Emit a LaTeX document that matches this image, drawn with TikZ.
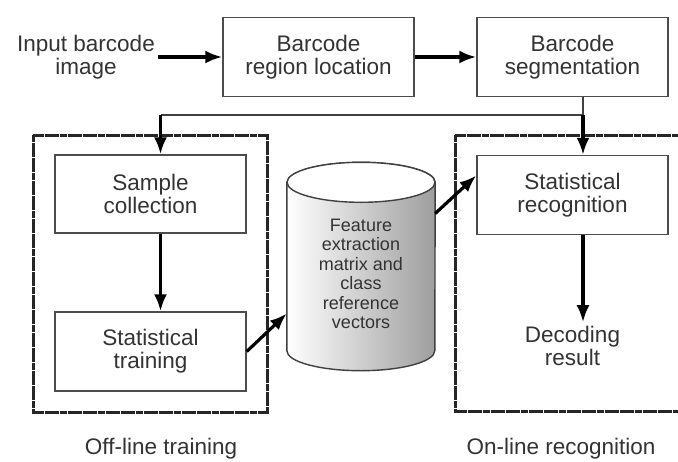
\documentclass[tikz,border=0pt]{standalone}
\usepackage{fontspec}
\setmainfont{Liberation Sans}
\usetikzlibrary{positioning, arrows.meta}

\begin{document}
\begin{tikzpicture}[x=1pt,y=-1pt,node distance=2cm,on grid,
   >={Latex[length=17pt,width=13pt]},
   box/.style={draw=black!70,line width=1.4pt,minimum width=191pt,minimum height=79pt,
     align=center,text=black!80,font=\fontsize{22.5}{23}\selectfont},
   txt/.style={align=center,text=black!80,font=\fontsize{22.5}{23}\selectfont},
   dbshape/.style={minimum width=148pt,minimum height=208pt,inner sep=0pt},
   dbtext/.style={align=center,text=black!80,font=\fontsize{18}{19.5}\selectfont},
   flow/.style={->,line width=3.2pt},
   feed/.style={line width=1.5pt,draw=black!75},
   frame/.style={line width=3pt,draw=black!85,dash pattern=on 7pt off 0.6pt}]

   \useasboundingbox (0,0) rectangle (678,461);

   \node[txt] (input) at (86,57) {Input barcode\\image};
   \node[box] (loc) [right=232.5pt of input] {Barcode\\region location};
   \node[box] (seg) [right=254pt of loc] {Barcode\\segmentation};

   \node[box,minimum height=78pt] (sample) at (150.5,194) {Sample\\collection};
   \node[box] (train) [below=157.5pt of sample] {Statistical\\training};

   \node[box] (recog) [below=138pt of seg] {Statistical\\recognition};
   \node[txt] (decode) [below=150.5pt of recog] {Decoding\\result};

   % database cylinder
   \node[dbshape] (db) at (361,266.5) {};
   \shadedraw[left color=white,right color=black!38,draw=black!75,line width=1.4pt]
     ([yshift=-20pt]db.north west) -- ([yshift=20pt]db.south west)
     arc[start angle=180,end angle=360,x radius=74pt,y radius=20pt]
     -- ([yshift=-20pt]db.north east)
     arc[start angle=0,end angle=180,x radius=74pt,y radius=20pt] -- cycle;
   \draw[fill=white,draw=black!75,line width=1.4pt]
     ([yshift=-20pt]db.north) ellipse [x radius=74pt,y radius=20pt];
   \node[dbtext] (dblabel) at ([yshift=-7.5pt]db) {Feature\\extraction\\matrix and\\class\\reference\\vectors};

   % frames
   \draw[frame] (33,135) rectangle (267,412);
   \draw[frame] (455,135) rectangle (690,411);
   \node[txt,anchor=base] (offline) at (161,454) {Off-line training};
   \node[txt,anchor=base] (online) at (561,454) {On-line recognition};

   % connectors
   \coordinate (branch) at ([xshift=10.5pt]seg.south |- 0,115);
   \coordinate (bl) at ([xshift=10pt]sample.north |- branch);
   \draw[flow] (input) -- (loc);
   \draw[flow] (loc) -- (seg);
   \draw[feed] ([xshift=10.5pt]seg.south) -- (branch) -- (bl);
   \draw[flow] (bl) -- ([xshift=10pt]sample.north);
   \draw[flow] (branch) -- ([xshift=10.5pt]recog.north);
   \draw[flow] ([xshift=10pt]sample.south) -- ([xshift=10pt]train.north);
   \draw[flow] (train.east) -- ([yshift=-47pt]db.west);
   \draw[flow] ([yshift=53pt]db.east) -- ([yshift=19.5pt]recog.west);
   \draw[flow] ([xshift=10.5pt]recog.south) -- ([xshift=10.5pt]recog.south |- decode.north);

\end{tikzpicture}
\end{document}
